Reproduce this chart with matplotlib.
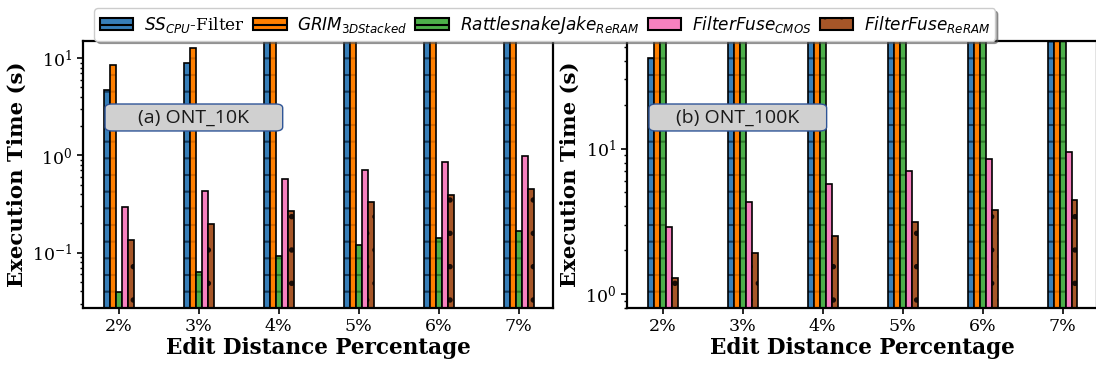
import numpy as np
import matplotlib
matplotlib.use('Agg')
import matplotlib.pyplot as plt
from matplotlib.patches import FancyBboxPatch, Patch

plt.rcParams['font.family'] = 'serif'
plt.rcParams['font.serif'] = ['DejaVu Serif']
plt.rcParams['mathtext.fontset'] = 'dejavusans'
plt.rcParams['hatch.linewidth'] = 1.5

# datos
edits = ['2%', '3%', '4%', '5%', '6%', '7%']
labels = [r'$SS_{CPU}$-Filter', r'$GRIM_{3DStacked}$', r'$RattlesnakeJake_{ReRAM}$',
          r'$FilterFuse_{CMOS}$', r'$FilterFuse_{ReRAM}$']
colores = ['#377eb8', '#ff7f00', '#4daf4a', '#f781bf', '#a65628']
oscuros = ['#123a5e', '#d96a00', '#2e7a2c', '#f781bf', '#1a0c06']
tramas = ['-', '-', '-', '', '.']

# ONT_10K (s)
ss_10k = [4.75, 9.0, 18.0, 27.0, 36.0, 46.0]
grim_10k = [8.4, 12.8, 17.0, 21.0, 26.0, 30.0]
rsj_10k = [0.039, 0.063, 0.092, 0.119, 0.141, 0.168]
ffc_10k = [0.293, 0.43, 0.57, 0.70, 0.85, 0.98]
ffr_10k = [0.134, 0.196, 0.267, 0.33, 0.39, 0.45]

# ONT_100K (s)
ss_100k = [41.8, 63.0, 84.0, 105.0, 126.0, 147.0]
grim_100k = [85.0, 128.0, 170.0, 213.0, 255.0, 298.0]
rsj_100k = [60.0, 90.0, 120.0, 150.0, 180.0, 210.0]
ffc_100k = [2.9, 4.3, 5.74, 7.05, 8.5, 9.5]
ffr_100k = [1.29, 1.92, 2.51, 3.14, 3.8, 4.45]

series_10k = [ss_10k, grim_10k, rsj_10k, ffc_10k, ffr_10k]
series_100k = [ss_100k, grim_100k, rsj_100k, ffc_100k, ffr_100k]

fig = plt.figure(figsize=(10.96, 3.66), dpi=100)
ax1 = fig.add_axes([0.0757, 0.1585, 0.4288, 0.7295])
ax2 = fig.add_axes([0.572, 0.1585, 0.4288, 0.7295])

x = np.arange(len(edits))
w = 0.075

def dibujar(ax, series, ylim, texto):
    for i, vals in enumerate(series):
        # relleno con trama en tono oscuro, luego el borde negro
        ax.bar(x + (i - 2) * w, vals, w, color=colores[i], edgecolor=oscuros[i],
               linewidth=0, hatch=tramas[i])
        ax.bar(x + (i - 2) * w, vals, w, fill=False, edgecolor='black', linewidth=1.2)
    ax.set_yscale('log')
    ax.set_ylim(*ylim)
    ax.set_xlim(-0.45, 5.43)
    ax.set_xticks(x)
    ax.set_xticklabels(edits, fontsize=12.5)
    ax.tick_params(axis='y', labelsize=12.5)
    ax.tick_params(which='major', length=4, width=1.2)
    ax.tick_params(which='minor', length=2, width=1)
    for s in ax.spines.values():
        s.set_linewidth(1.6)
    ax.set_xlabel('Edit Distance Percentage', fontsize=15.5, fontweight='bold', labelpad=1)
    ax.set_ylabel('Execution Time (s)', fontsize=15.3, fontweight='bold', labelpad=4)
    caja = FancyBboxPatch((0.047, 0.663), 0.378, 0.101, transform=ax.transAxes,
                          boxstyle='round,pad=0,rounding_size=0.015',
                          facecolor='#d0d0d0', edgecolor='#2f5597', linewidth=1.0,
                          zorder=5)
    ax.add_patch(caja)
    ax.text(0.236, 0.713, texto, transform=ax.transAxes, ha='center', va='center',
            fontsize=14, family='Open Sans', color='#1a1a1a', zorder=6)

dibujar(ax1, series_10k, (0.027, 15), '(a) ONT_10K')
dibujar(ax2, series_100k, (0.8, 55), '(b) ONT_100K')

handles = [Patch(facecolor=colores[i], edgecolor='black', hatch=tramas[i], linewidth=1.5)
           for i in range(len(labels))]
fig.legend(handles=handles, labels=labels, loc='upper center', ncol=5,
           bbox_to_anchor=(0.497, 1.0), fontsize=12.2, frameon=True, fancybox=True,
           shadow=True, handlelength=2.0, handletextpad=0.6, columnspacing=0.5,
           borderpad=0.3)

fig.savefig('out.png', dpi=100)
